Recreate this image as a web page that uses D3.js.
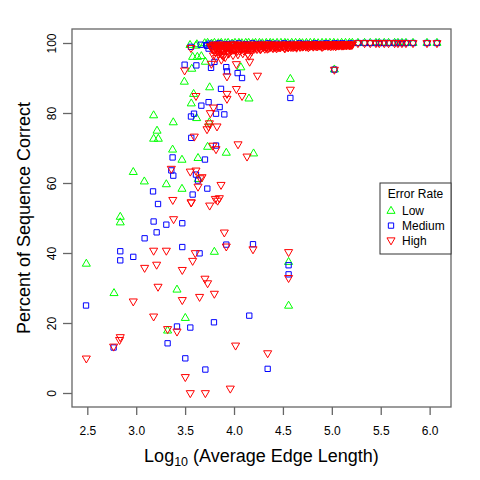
<!DOCTYPE html>
<html><head><meta charset="utf-8">
<script src="https://cdn.jsdelivr.net/npm/d3@7"></script>
<style>
html,body{margin:0;padding:0;background:#fff;}
svg text{font-family:"Liberation Sans",Arial,Helvetica,sans-serif;fill:#000;}
</style></head>
<body><svg id="chart" width="480" height="480"></svg>
<script>
// ---- data (x = log10 average edge length, y = percent correct) ----
const seriesNames = ["Low", "Medium", "High"];
const xTicks = [2.5, 3.0, 3.5, 4.0, 4.5, 5.0, 5.5, 6.0];
const yTicks = [0, 20, 40, 60, 80, 100];
const xLabelMain = "Log";
const xLabelSub = "10";
const xLabelRest = " (Average Edge Length)";
const yLabel = "Percent of Sequence Correct";
const legendTitle = "Error Rate";

// x values where every series reached 100%
const perfectX = [5.267, 5.335, 5.393, 5.451, 5.485, 5.536, 5.580, 5.642, 5.676, 5.717, 5.758, 5.830, 5.973, 6.075];

const lowPoints = [
  [2.49,36.9],[2.773,28.5],[2.837,50.3],[2.837,48.7],[2.970,63.1],[3.083,60.4],[3.178,79.3],[3.213,74.9],
  [3.178,72.6],[3.226,72.6],[3.308,59.6],[3.321,17.8],[3.372,69.5],[3.379,77.3],[3.417,29.5],[3.468,66.6],
  [3.468,58.3],[3.492,88.9],[3.502,21.4],[3.563,82.7],[3.568,92.6],[3.587,85.4],[3.577,96.0],[3.618,78.5],
  [3.625,96.0],[3.632,67.1],[3.635,61.1],[3.666,96.2],[3.707,94.6],[3.730,70.3],[3.748,77.3],[3.751,87.3],
  [3.799,40.3],[3.921,68.6],[4.07,93.0],[4.153,84.1],[4.2,68.4],[4.558,37.4],[4.558,24.9],[4.576,89.7],
  [5.026,92.4],[3.611,99.2],[3.62,99.6],[3.55,99.4],
  [3.70,99.9],[3.73,100],[3.77,99.8],[3.80,100],[3.84,99.9],[3.87,100],[3.91,99.9],[3.94,100],[3.98,99.8],
  [4.01,100],[4.05,100],[4.08,99.9],[4.12,100],[4.15,100],[4.19,99.9],[4.22,100],[4.26,100],[4.29,99.9],
  [4.33,100],[4.37,100],[4.40,99.9],[4.44,100],[4.48,100],[4.52,100],[4.55,99.9],[4.59,100],[4.63,100],
  [4.67,100],[4.70,99.9],[4.74,100],[4.78,100],[4.82,100],[4.86,99.9],[4.90,100],[4.94,100],[4.98,100],
  [5.02,100],[5.06,99.9],[5.10,100],[5.14,100],[5.18,100],[5.21,100]
];

const mediumPoints = [
  [2.487,25.0],[2.769,13.0],[2.837,40.5],[2.837,37.9],[2.970,38.9],[3.086,44.2],[3.178,49.0],[3.209,45.9],
  [3.223,54.0],[3.172,57.6],[3.308,48.1],[3.321,14.2],[3.359,63.6],[3.372,67.3],[3.379,62.1],[3.417,19.0],
  [3.471,48.5],[3.471,41.7],[3.495,93.8],[3.502,9.9],[3.553,18.7],[3.560,79.0],[3.563,72.9],[3.577,56.7],
  [3.591,79.8],[3.611,62.4],[3.615,93.6],[3.632,60.7],[3.648,39.9],[3.666,82.1],[3.703,66.7],[3.707,6.7],
  [3.727,58.4],[3.74,83.1],[3.765,92.9],[3.795,20.2],[3.80,94.6],[3.816,79.8],[3.816,70.7],[3.853,81.7],
  [3.867,86.9],[3.901,79.6],[3.921,42.4],[3.921,93.1],[3.928,91.9],[4.037,91.4],[4.082,90.0],[4.156,22.1],
  [4.194,42.5],[4.344,6.9],[4.558,36.5],[4.558,33.9],[4.576,84.3],[5.026,92.4],
  [3.56,98.9],[3.724,99.2],[3.74,98.4],[3.66,99.5],
  [3.72,99.4],[3.75,99.8],[3.79,99.1],[3.82,99.6],[3.85,99.9],[3.88,99.3],[3.92,99.7],[3.95,99.0],[3.98,99.8],
  [4.02,99.5],[4.05,99.9],[4.09,99.2],[4.12,99.7],[4.16,99.4],[4.19,99.9],[4.23,99.6],[4.27,99.8],[4.31,99.3],
  [4.35,99.9],[4.39,99.6],[4.43,99.8],[4.47,99.5],[4.51,99.9],[4.55,99.7],[4.59,99.8],[4.63,99.4],[4.67,99.9],
  [4.71,99.7],[4.75,99.8],[4.79,99.6],[4.83,99.9],[4.87,99.7],[4.91,99.8],[4.95,99.9],[4.99,99.6],[5.03,99.9],
  [5.07,99.8],[5.11,99.9],[5.15,99.7],[5.19,99.9]
];

const highPoints = [
  [2.490,9.9],[2.769,13.3],[2.830,15.2],[2.837,16.0],[2.970,26.2],[3.086,35.8],[3.178,40.7],[3.178,21.9],
  [3.209,36.7],[3.223,30.4],[3.308,40.7],[3.321,18.3],[3.359,64.1],[3.374,55.2],[3.382,49.7],[3.417,17.6],
  [3.471,35.2],[3.471,26.6],[3.495,92.2],[3.502,4.6],[3.553,0],[3.553,63.3],[3.561,54.5],[3.563,54.5],
  [3.577,37.8],[3.594,73.3],[3.604,40.0],[3.611,63.6],[3.611,84.9],[3.632,59.0],[3.648,27.5],[3.655,61.4],
  [3.673,61.7],[3.703,32.7],[3.707,0],[3.724,75.4],[3.730,31.4],[3.74,76.2],[3.748,77.1],[3.751,53.6],
  [3.758,80.0],[3.768,94.1],[3.785,70.7],[3.79,81.6],[3.799,28.4],[3.809,55.5],[3.816,69.7],[3.826,76.2],
  [3.832,55.0],[3.85,55.7],[3.867,59.5],[3.901,45.9],[3.921,41.9],[3.928,90.5],[3.928,85.5],[3.928,84.1],
  [3.962,1.3],[4.016,13.6],[4.024,94.0],[4.024,86.9],[4.041,71.1],[4.082,84.9],[4.133,67.6],[4.153,96.4],
  [4.16,94.7],[4.194,41.1],[4.24,90.7],[4.344,11.4],[4.558,40.3],[4.558,32.9],[4.576,86.7],[5.026,92.4],
  [3.56,98.6],[3.775,98.6],[3.826,99.0],[3.86,97.6],[3.877,96.7],
  [3.82,95.8],[3.87,95.3],[3.91,96.0],
  [3.79,96.5],[3.84,96.9],[3.89,96.3],[3.94,97.0],[3.99,96.6],[4.04,96.8],[4.09,97.1],[4.14,96.9],
  [3.76,99.1],[3.78,98.2],[3.80,99.4],[3.81,97.4],[3.83,99.0],[3.85,98.5],[3.86,99.5],[3.88,97.9],[3.90,99.3],
  [3.91,98.8],[3.93,99.4],[3.95,97.2],[3.96,98.9],[3.98,99.5],[4.00,98.1],[4.01,99.6],[4.03,97.7],[4.05,99.2],
  [4.06,98.6],[4.08,99.4],[4.10,97.9],[4.11,99.0],[4.13,99.5],[4.15,98.4],[4.16,99.4],[4.18,97.6],[4.20,99.1],
  [4.22,99.5],[4.23,98.7],[4.25,99.3],[4.27,98.2],[4.29,99.6],[4.30,98.9],[4.32,99.5],[4.34,98.4],[4.36,99.6],
  [4.38,99.0],[4.40,98.6],[4.42,99.5],[4.44,99.2],[4.46,98.8],[4.48,99.5],[4.50,99.3],[4.52,98.5],[4.54,99.6],
  [4.56,99.1],[4.58,98.9],[4.60,99.5],[4.62,99.4],[4.64,98.7],[4.66,99.6],[4.68,99.2],[4.70,99.0],[4.72,99.5],
  [4.74,99.4],[4.76,98.8],[4.78,99.6],[4.80,99.3],[4.82,99.5],[4.84,99.1],[4.86,99.6],[4.88,99.4],[4.90,98.9],
  [4.92,99.5],[4.94,99.5],[4.96,99.2],[4.98,99.6],[5.00,99.4],[5.02,99.5],[5.04,99.1],[5.06,99.6],[5.08,99.5],
  [5.10,99.3],[5.12,99.6],[5.14,99.5],[5.16,99.6],[5.18,99.4],[5.20,99.6],
  [3.77,98.9],[3.79,99.5],[3.82,98.6],[3.84,99.4],[3.87,98.8],[3.89,99.5],[3.92,98.3],[3.94,99.1],[3.97,98.7],
  [3.99,99.5],[4.02,98.9],[4.04,99.4],[4.07,98.5],[4.09,99.5],[4.12,98.8],[4.14,99.3],[4.17,98.9],[4.19,99.5],
  [4.21,98.4],[4.24,99.5],[4.26,98.9],[4.28,99.4],[4.31,99.1],[4.33,98.8],[4.35,99.5],[4.37,98.9],[4.39,99.5],
  [4.41,99.1],[4.43,98.9],[4.45,99.5],[4.47,99.0],[4.49,99.5],[4.51,99.2],[4.53,99.5],[4.55,98.9],[4.57,99.5],
  [4.59,99.3],[4.61,98.9],[4.63,99.6],[4.65,99.2],[4.67,99.4],[4.69,99.5],[4.71,99.1],[4.73,99.5],[4.75,99.6],
  [4.77,99.2],[4.79,99.5],[4.81,99.0],[4.83,99.6],[4.85,99.4],[4.87,99.5],[4.89,99.2],[4.91,99.6],[4.93,99.3],
  [4.95,99.5],[4.97,99.5],[4.99,99.1],[5.01,99.6],[5.03,99.4],[5.05,99.5],[5.07,99.3],[5.09,99.6],[5.11,99.5],
  [5.13,99.5],[5.15,99.4],[5.17,99.6],[5.19,99.5],[5.21,99.6],
  [3.795,98.0],[3.815,98.4],[3.835,97.8],[3.855,98.3],[3.875,98.1],[3.895,97.7],[3.915,98.5],[3.935,98.0],
  [3.955,98.3],[3.975,97.9],[3.995,98.4],[4.015,98.1],[4.035,98.6],[4.055,97.9],[4.075,98.3],[4.095,98.6],
  [4.115,98.0],[4.135,98.4],[4.155,98.7],[4.175,98.2],[4.195,98.6],[4.215,98.9],[4.235,98.3],[4.255,98.7],
  [4.275,98.5],[4.295,98.9],[4.315,98.4],[4.335,98.8],[4.355,98.6],[4.375,99.0],[4.395,98.7],[4.415,98.9],
  [4.435,98.5],[4.455,99.0],[4.475,98.8],[4.495,99.1],[4.515,98.7],[4.535,99.0],[4.555,98.8],[4.575,99.2],
  [4.595,98.9],[4.615,99.1],[4.635,99.0],[4.655,99.3],[4.675,98.9],[4.695,99.2],[4.715,99.4],[4.735,99.0],
  [4.755,99.3],[4.775,99.1],[4.795,99.4],[4.815,99.2],[4.835,99.5],[4.855,99.1],[4.875,99.3],[4.895,99.5],
  [4.915,99.2],[4.935,99.4],[4.955,99.6],[4.975,99.3],[4.995,99.5],[5.015,99.2],[5.035,99.6],[5.055,99.4],
  [5.075,99.5],[5.095,99.5],[5.115,99.3],[5.135,99.6],[5.155,99.5],[5.175,99.5],[5.195,99.5],
  [3.805,99.6],[3.845,99.5],[3.885,99.6],[3.925,99.5],[3.965,99.6],[4.005,99.5],[4.045,99.6],[4.085,99.5],
  [4.125,99.6],[4.165,99.5],[4.205,99.6],[4.245,99.5],[4.285,99.6],[4.325,99.5],[4.365,99.6],[4.405,99.5],
  [4.445,99.6],[4.485,99.5],[4.525,99.6],[4.565,99.5],[4.605,99.6],[4.645,99.5],[4.685,99.6],[4.725,99.5],
  [4.765,99.6],[4.805,99.5],[4.845,99.6],[4.885,99.5],[4.925,99.6],[4.965,99.5],[5.005,99.6],[5.045,99.5],
  [5.085,99.6],[5.125,99.5],[5.165,99.6],[5.205,99.5]
];

const seriesColors = ["#00ff00", "#0000ff", "#ff0000"];
const seriesShapes = ["up", "square", "down"];

// ---- build ----
const allSeries = [lowPoints, mediumPoints, highPoints].map((pts, i) => ({
  name: seriesNames[i],
  color: seriesColors[i],
  shape: seriesShapes[i],
  points: pts.concat(perfectX.map(x => [x, 100]))
}));

const svg = d3.select("#chart");
const plot = {left: 72, right: 451, top: 29, bottom: 407};

const allX = allSeries.flatMap(s => s.points.map(p => p[0]));
const xExt = d3.extent(allX);
const xPad = (xExt[1] - xExt[0]) * 0.04;
const x = d3.scaleLinear().domain([xExt[0] - xPad, xExt[1] + xPad]).range([plot.left, plot.right]);
const y = d3.scaleLinear().domain([-4, 104]).range([plot.bottom, plot.top]);

function shapePath(shape) {
  const xc = 3.0;
  if (shape === "square") {
    const h = 0.886 * xc;
    return `M${-h},${-h}H${h}V${h}H${-h}Z`;
  }
  const r = 1.555 * xc, w = 1.347 * xc, b = 0.778 * xc;
  if (shape === "up") return `M0,${-r}L${w},${b}L${-w},${b}Z`;
  return `M0,${r}L${w},${-b}L${-w},${-b}Z`;
}

// points
allSeries.forEach(s => {
  svg.append("g").selectAll("path").data(s.points).join("path")
    .attr("d", shapePath(s.shape))
    .attr("transform", d => `translate(${x(d[0])},${y(d[1])})`)
    .attr("fill", "none").attr("stroke", s.color).attr("stroke-width", 1);
});

// frame
svg.append("rect")
  .attr("x", plot.left).attr("y", plot.top)
  .attr("width", plot.right - plot.left).attr("height", plot.bottom - plot.top)
  .attr("fill", "none").attr("stroke", "#666").attr("stroke-width", 1.3);

// x axis
const gx = svg.append("g").attr("transform", `translate(0,${plot.bottom})`)
  .call(d3.axisBottom(x).tickValues(xTicks).tickFormat(d3.format(".1f")).tickSize(8).tickSizeOuter(0));
gx.select(".domain").remove();
gx.selectAll(".tick line").attr("stroke", "#666").attr("stroke-width", 1.3);
gx.selectAll(".tick text").attr("y", 28).attr("dy", 0).style("font-size", "12px")
  .style("font-family", '"Liberation Sans",Arial,sans-serif').attr("fill", "#000");

// y axis
const gy = svg.append("g").attr("transform", `translate(${plot.left},0)`)
  .call(d3.axisLeft(y).tickValues(yTicks).tickSize(9).tickSizeOuter(0));
gy.select(".domain").remove();
gy.selectAll(".tick line").attr("stroke", "#666").attr("stroke-width", 1.3);
gy.selectAll(".tick text").attr("x", 0).attr("dy", 0).attr("text-anchor", "middle")
  .attr("transform", "translate(-16,0) rotate(-90)").style("font-size", "12px")
  .style("font-family", '"Liberation Sans",Arial,sans-serif').attr("fill", "#000");

// axis titles
const xt = svg.append("text").attr("x", (plot.left + plot.right) / 2).attr("y", 462)
  .attr("text-anchor", "middle").style("font-size", "18px");
xt.append("tspan").text(xLabelMain);
xt.append("tspan").text(xLabelSub).style("font-size", "12.5px").attr("dy", 4);
xt.append("tspan").text(xLabelRest).attr("dy", -4);

svg.append("text").attr("transform", `translate(30,${(plot.top + plot.bottom) / 2}) rotate(-90)`)
  .attr("text-anchor", "middle").style("font-size", "18px").text(yLabel);

// legend
const lg = svg.append("g");
lg.append("rect").attr("x", 380).attr("y", 183).attr("width", 71).attr("height", 71)
  .attr("fill", "#fff").attr("stroke", "#333").attr("stroke-width", 1);
lg.append("text").attr("x", 415.5).attr("y", 197.5).attr("text-anchor", "middle")
  .style("font-size", "12px").text(legendTitle);
allSeries.forEach((s, i) => {
  const cy = 211 + i * 14.6;
  lg.append("path").attr("d", shapePath(s.shape)).attr("transform", `translate(391,${cy})`)
    .attr("fill", "none").attr("stroke", s.color).attr("stroke-width", 1);
  lg.append("text").attr("x", 402).attr("y", cy + 4.3).style("font-size", "12px").text(s.name);
});
</script></body></html>
